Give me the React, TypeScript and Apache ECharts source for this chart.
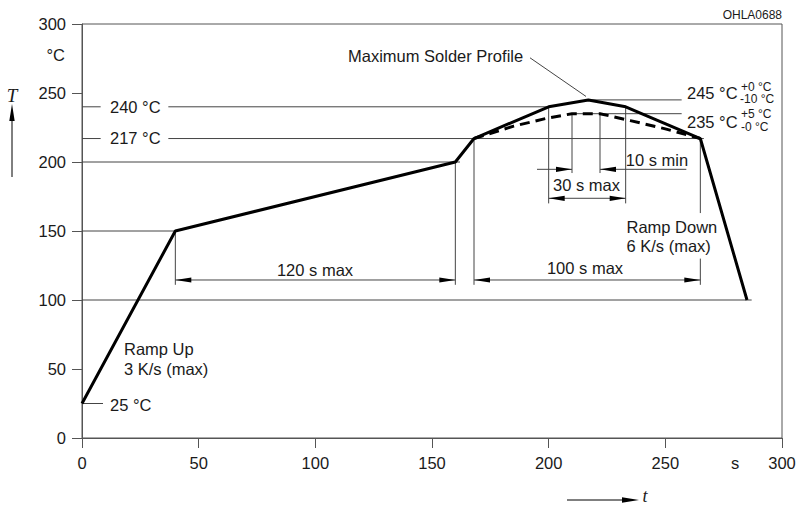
import React, { useEffect, useRef } from "react";
import * as echarts from "echarts";

// Axis ticks
const xTickValues = [0, 50, 100, 150, 200, 250, 300];
const yTickValues = [0, 50, 100, 150, 200, 250, 300];

// Maximum solder profile (time s, temperature °C)
const maxProfile: number[][] = [
  [0, 25], [40, 150], [160, 200], [168, 217], [200, 240],
  [217, 245], [233, 240], [265, 217], [285, 100],
];

// Minimum (dashed) profile
const minProfile: number[][] = [
  [168, 217], [185, 226], [200, 232], [210, 235], [222, 235],
  [235, 230], [250, 224], [265, 217],
];

// Thin guide segments [x1, y1, x2, y2] in data units
const guideSegments: number[][] = [
  [0, 240, 8, 240], [37, 240, 200, 240],
  [0, 217, 8, 217], [37, 217, 266.5, 217],
  [0, 200, 162, 200],
  [0, 150, 40, 150],
  [0, 100, 287, 100],
  [0, 25, 9, 25],
  [217, 245, 257, 245],
  [210, 235, 257, 235],
  [40, 150, 40, 111], [160, 200, 160, 111], [168, 217, 168, 111],
  [265, 217, 265, 163], [265, 130, 265, 111],
  [200, 240, 200, 170], [233, 240, 233, 170],
  [210, 235, 210, 192], [222, 235, 222, 192],
  [195, 194.7, 210, 194.7], [222, 194.7, 259, 194.7],
  [40, 114.5, 160, 114.5],
  [168, 114.5, 265, 114.5],
  [200, 173.7, 233, 173.7],
  [192, 275.5, 216, 247.5],
];

// Arrow heads [x, y, direction] (1 = points right, -1 = points left)
const arrowHeads: number[][] = [
  [40, 114.5, -1], [160, 114.5, 1],
  [168, 114.5, -1], [265, 114.5, 1],
  [200, 173.7, -1], [233, 173.7, 1],
  [210, 194.7, 1], [222, 194.7, -1],
];

const FONT = '"Liberation Sans", Arial, Helvetica, sans-serif';
const TXT = "#1a1a1a";
const FS = 16.5;

function txt(text: string, x: number, y: number, size = FS, align = "left", font = FONT, italic = false) {
  return {
    type: "text",
    x,
    y,
    silent: true,
    style: {
      text,
      fill: TXT,
      font: `${italic ? "italic " : ""}${size}px ${font}`,
      align,
      verticalAlign: "middle",
    },
  };
}

export default function App() {
  const ref = useRef<HTMLDivElement>(null);
  useEffect(() => {
    if (!ref.current) return;
    const chart = echarts.init(ref.current, null, { renderer: "svg" });
    const axisCommon = {
      type: "value",
      min: 0,
      max: 300,
      interval: 50,
      axisLine: { show: true, lineStyle: { color: "#555", width: 1 } },
      axisTick: { show: true, length: 10, inside: false, lineStyle: { color: "#555", width: 1 } },
      axisLabel: { fontSize: FS, fontFamily: FONT, color: TXT, margin: 16, showMinLabel: true, showMaxLabel: true },
      splitLine: { show: false },
    };
    const serif = '"Liberation Serif", "DejaVu Serif", serif';
    chart.setOption({
      animation: false,
      backgroundColor: "#fff",
      grid: { left: 82, right: 17, top: 24, bottom: 69, show: true, borderColor: "#555", borderWidth: 1, backgroundColor: "transparent" },
      xAxis: { ...axisCommon, axisLabel: { ...axisCommon.axisLabel, formatter: (v: number) => (xTickValues.includes(v) ? String(v) : "") } },
      yAxis: { ...axisCommon, axisLabel: { ...axisCommon.axisLabel, formatter: (v: number) => (yTickValues.includes(v) ? String(v) : "") } },
      series: [
        {
          type: "custom",
          name: "guides",
          coordinateSystem: "cartesian2d",
          silent: true,
          encode: { x: [0, 2], y: [1, 3] },
          data: guideSegments,
          renderItem: (_p: any, api: any) => {
            const a = api.coord([api.value(0), api.value(1)]);
            const b = api.coord([api.value(2), api.value(3)]);
            return {
              type: "line",
              shape: { x1: a[0], y1: a[1], x2: b[0], y2: b[1] },
              style: { stroke: "#444", lineWidth: 1 },
            };
          },
          z: 1,
        },
        {
          type: "custom",
          name: "arrows",
          coordinateSystem: "cartesian2d",
          silent: true,
          encode: { x: 0, y: 1 },
          data: arrowHeads,
          renderItem: (_p: any, api: any) => {
            const p = api.coord([api.value(0), api.value(1)]);
            const d = api.value(2);
            return {
              type: "polygon",
              shape: { points: [[p[0], p[1]], [p[0] - d * 16, p[1] - 2.6], [p[0] - d * 16, p[1] + 2.6]] },
              style: { fill: "#000" },
            };
          },
          z: 3,
        },
        {
          type: "line",
          name: "Maximum Solder Profile",
          data: maxProfile,
          symbol: "none",
          lineStyle: { color: "#000", width: 3 },
          z: 4,
        },
        {
          type: "line",
          name: "Minimum Profile",
          data: minProfile,
          symbol: "none",
          lineStyle: { color: "#000", width: 3, type: [10, 6] },
          z: 4,
        },
      ],
      graphic: [
        txt("°C", 65, 55, FS, "right"),
        txt("T", 12, 95, 19, "center", serif, true),
        { type: "line", shape: { x1: 12, y1: 177, x2: 12, y2: 118 }, style: { stroke: "#000", lineWidth: 1 } },
        { type: "polygon", shape: { points: [[12, 104], [9.3, 121], [14.7, 121]] }, style: { fill: "#000" } },
        txt("t", 645, 496, 18, "center", serif, true),
        { type: "line", shape: { x1: 567, y1: 500, x2: 625, y2: 500 }, style: { stroke: "#000", lineWidth: 1 } },
        { type: "polygon", shape: { points: [[639, 500], [622, 497.3], [622, 502.7]] }, style: { fill: "#000" } },
        txt("s", 735, 463, FS, "center"),
        txt("OHLA0688", 782, 15, 12, "right"),
        txt("240 °C", 110, 107),
        txt("217 °C", 110, 138),
        txt("25 °C", 110, 405),
        txt("Ramp Up", 124, 349),
        txt("3 K/s (max)", 124, 369),
        txt("120 s max", 315, 270, FS, "center"),
        txt("100 s max", 585, 268, FS, "center"),
        txt("30 s max", 586.5, 185, FS, "center"),
        txt("10 s min", 657, 160, FS, "center"),
        txt("Ramp Down", 626.5, 227),
        txt("6 K/s (max)", 626.5, 246),
        txt("Maximum Solder Profile", 348, 56),
        txt("245 °C", 687, 93),
        txt("+0 °C", 741, 86.5, 12),
        txt("-10 °C", 740, 99, 12),
        txt("235 °C", 687, 122),
        txt("+5 °C", 741, 114, 12),
        txt("-0 °C", 741, 127, 12),
      ],
    });
    return () => chart.dispose();
  }, []);
  return <div ref={ref} style={{ position: "fixed", left: 0, top: 0, width: 799, height: 507 }} />;
}
